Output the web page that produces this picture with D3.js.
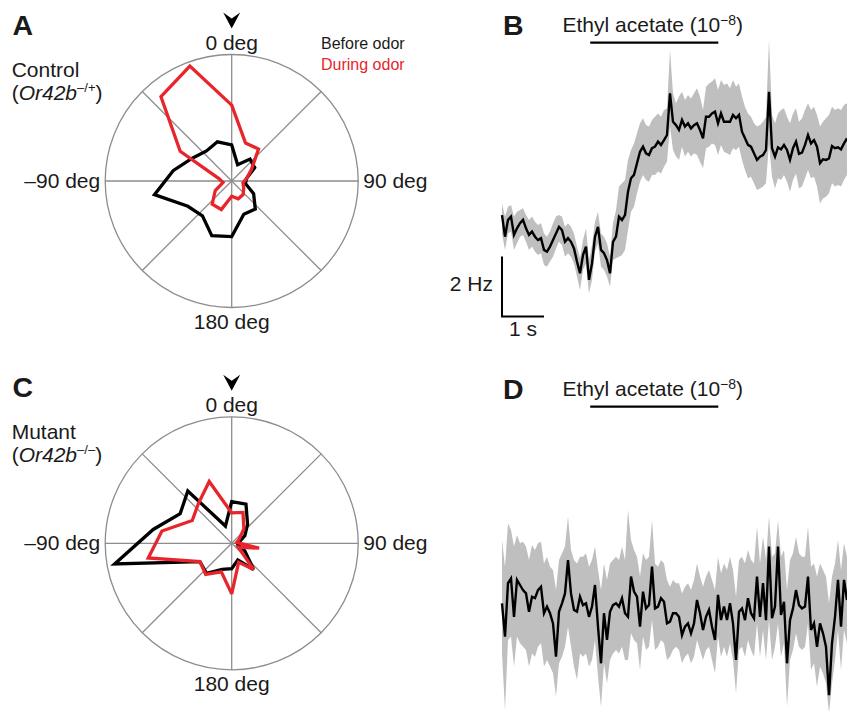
<!DOCTYPE html>
<html>
<head>
<meta charset="utf-8">
<script src="https://cdn.jsdelivr.net/npm/d3@7/dist/d3.min.js"></script>
<style>
  body { margin: 0; background: #fff; }
  svg { display: block; font-family: "Liberation Sans", Arial, Helvetica, sans-serif; }
</style>
</head>
<body>
<div class="fig"></div>
<script>
// heading histograms, 20 deg bins, clockwise from 0 deg (up)
let binAngles = [0, 20, 40, 60, 80, 100, 120, 140, 160, 180, 200, 220, 240, 260, 280, 300, 320, 340]
let controlBefore = [0.285, 0.137, 0.226, 0.21, 0.12, 0.11, 0.20, 0.29, 0.28, 0.44, 0.46, 0.36, 0.40, 0.62, 0.47, 0.36, 0.31, 0.33]
let controlDuring = [0.60, 0.32, 0.33, 0.18, 0.12, 0.09, 0.11, 0.14, 0.15, 0.12, 0.24, 0.24, 0.15, 0.07, 0.10, 0.47, 0.87, 0.967]
let mutantBefore = [0.33, 0.33, 0.195, 0.12, 0.06, 0.05, 0.12, 0.27, 0.14, 0.20, 0.22, 0.31, 0.29, 0.94, 0.63, 0.47, 0.54, 0.145]
let mutantDuring = [0.24, 0.26, 0.15, 0.07, 0.04, 0.22, 0.06, 0.27, 0.16, 0.40, 0.24, 0.32, 0.29, 0.67, 0.56, 0.36, 0.41, 0.52]
let spokeAngles = [0, 45, 90, 135, 180, 225, 270, 315]
let labelAngles = [0, 90, 180, -90]
let angleLabels = ["0 deg", "90 deg", "180 deg", "–90 deg"]

// firing rate (Hz), 14 samples per second
let sampleRate = 14
let odorWindow = [2.1, 5.15]
let controlMean = [4.83, 4.11, 4.67, 4.78, 4.17, 4.39, 4.56, 4.67, 4.39, 4.17, 4.28, 4.11, 4.00, 4.06, 3.67, 3.61, 3.78, 4.00, 4.22, 4.44, 4.33, 3.94, 4.06, 3.94, 3.72, 3.28, 2.89, 3.50, 3.78, 2.67, 3.22, 4.11, 4.44, 3.67, 3.56, 3.33, 2.89, 3.94, 4.11, 4.78, 4.67, 4.83, 5.61, 6.06, 6.17, 6.56, 6.94, 7.11, 6.89, 6.83, 7.06, 7.11, 7.28, 7.17, 7.33, 7.50, 8.89,
  7.94, 7.83, 7.67, 8.00, 7.78, 7.89, 7.72, 7.83, 7.89, 7.67, 7.39, 8.11, 8.11, 8.22, 8.28, 7.89, 8.22, 7.94, 7.94, 7.94, 8.17, 8.06, 8.17, 7.61, 7.39, 7.17, 7.11, 6.89, 6.67, 6.78, 6.83, 7.00, 8.94, 7.06, 6.78, 7.09, 7.02, 7.17, 7.00, 6.67, 7.06, 7.28, 6.87, 6.91, 7.17, 7.50, 7.22, 7.33, 7.11, 6.56, 6.69, 6.67, 6.72, 7.13, 7.06, 7.09, 7.02, 7.22, 7.39]
let controlUpper = [5.22, 4.78, 5.11, 5.17, 4.78, 4.94, 5.00, 5.06, 4.83, 4.67, 4.78, 4.61, 4.50, 4.56, 4.22, 4.11, 4.28, 4.56, 4.78, 4.83, 4.78, 4.44, 4.56, 4.44, 4.22, 3.78, 3.39, 4.00, 4.39, 3.33, 3.83, 4.61, 4.94, 4.22, 4.11, 3.89, 3.44, 4.56, 5.00, 5.78, 5.89, 6.00, 6.67, 7.00, 7.22, 7.56, 7.89, 8.06, 7.83, 7.78, 8.00, 8.11, 8.22, 8.11, 8.33, 8.39, 10.33,
  8.89, 8.56, 8.78, 8.94, 8.67, 8.83, 8.72, 8.89, 9.06, 8.78, 8.33, 9.11, 9.22, 9.28, 9.39, 9.00, 9.33, 9.17, 9.22, 9.06, 9.33, 9.11, 9.22, 8.78, 8.44, 8.22, 8.11, 7.89, 7.78, 7.83, 7.94, 8.11, 10.67, 8.17, 7.89, 8.22, 8.33, 8.39, 8.11, 7.89, 8.22, 8.39, 7.94, 8.06, 8.33, 8.56, 8.33, 8.44, 8.17, 7.78, 7.94, 8.06, 8.17, 8.44, 8.33, 8.39, 8.33, 8.50, 8.56]
let controlLower = [4.22, 3.67, 4.22, 4.28, 3.67, 3.89, 4.11, 4.17, 3.94, 3.67, 3.78, 3.61, 3.50, 3.56, 3.17, 3.11, 3.28, 3.44, 3.72, 3.94, 3.83, 3.44, 3.56, 3.44, 3.22, 2.78, 2.33, 3.00, 3.22, 2.22, 2.67, 3.61, 3.89, 3.11, 3.00, 2.78, 2.44, 3.33, 3.39, 3.44, 3.50, 3.67, 4.33, 4.94, 5.11, 5.56, 5.94, 6.17, 6.00, 5.94, 6.17, 6.17, 6.28, 6.22, 6.44, 6.61, 7.78,
  7.00, 6.78, 6.67, 7.11, 6.78, 6.94, 6.78, 6.89, 6.83, 6.61, 6.39, 7.06, 7.11, 7.22, 7.17, 6.83, 7.17, 6.94, 6.89, 6.83, 7.06, 7.00, 7.11, 6.67, 6.33, 6.06, 6.11, 5.89, 5.67, 5.72, 5.78, 5.89, 7.22, 6.11, 5.72, 6.06, 6.00, 6.17, 5.94, 5.61, 6.00, 6.22, 5.72, 5.78, 6.06, 6.33, 6.06, 6.11, 5.78, 5.22, 5.39, 5.44, 5.56, 5.89, 5.78, 5.83, 5.78, 6.00, 6.17]
let mutantMean = [5.89, 4.78, 6.56, 6.72, 5.44, 6.67, 6.50, 6.33, 6.22, 5.61, 6.11, 6.06, 6.33, 6.44, 5.56, 5.78, 5.56, 5.22, 4.11, 5.61, 5.89, 6.22, 7.33, 6.22, 5.67, 5.61, 6.11, 5.83, 5.89, 5.44, 5.78, 6.50, 5.11, 3.89, 5.56, 4.67, 5.61, 5.83, 5.89, 5.78, 6.06, 5.56, 5.44, 6.78, 6.28, 6.11, 5.11, 6.28, 5.72, 5.83, 7.11, 5.72, 5.78, 6.06, 5.94, 5.22, 5.28,
  5.56, 5.56, 5.44, 4.83, 5.11, 5.22, 4.89, 5.22, 6.00, 5.56, 5.00, 5.44, 5.67, 5.11, 4.67, 6.17, 5.33, 5.78, 5.33, 5.89, 5.22, 4.00, 5.61, 5.72, 5.33, 6.06, 5.56, 5.39, 6.78, 5.44, 6.56, 5.33, 7.78, 5.39, 5.78, 7.78, 5.50, 5.94, 3.89, 5.33, 5.72, 6.33, 5.83, 5.72, 5.78, 6.78, 5.00, 5.22, 4.44, 5.22, 4.89, 4.44, 2.83, 4.56, 5.44, 6.67, 5.11, 6.67, 6.00]
let mutantUpper = [8.00, 7.11, 8.56, 8.33, 7.78, 8.17, 7.89, 7.94, 7.78, 7.33, 7.83, 7.67, 7.89, 7.94, 7.22, 7.44, 7.11, 7.00, 6.33, 7.33, 7.56, 7.78, 8.78, 7.67, 7.33, 7.22, 7.44, 7.44, 7.56, 7.11, 7.33, 7.78, 7.00, 6.33, 7.22, 6.67, 7.22, 7.33, 7.44, 7.33, 7.78, 7.33, 9.00, 8.00, 7.67, 7.44, 6.78, 7.56, 7.33, 7.44, 8.67, 7.22, 7.11, 7.33, 7.22, 6.67, 6.44,
  6.67, 6.56, 6.56, 6.22, 6.44, 6.56, 6.33, 6.67, 7.22, 6.78, 6.44, 6.78, 7.00, 6.67, 6.33, 7.44, 6.89, 7.22, 7.00, 7.44, 7.00, 6.11, 7.33, 7.44, 7.22, 7.67, 7.33, 7.22, 8.44, 7.22, 8.11, 7.33, 8.78, 7.44, 7.56, 8.67, 7.44, 7.67, 6.33, 7.33, 7.56, 8.11, 7.56, 7.44, 7.44, 8.44, 7.11, 7.22, 6.78, 7.22, 7.00, 6.78, 5.89, 6.78, 7.22, 8.00, 7.00, 7.89, 7.44]
let mutantLower = [4.22, 2.33, 4.67, 4.78, 3.78, 4.78, 4.56, 4.44, 4.33, 3.78, 4.22, 4.11, 4.44, 4.56, 3.78, 4.00, 3.78, 3.56, 2.78, 3.89, 4.11, 4.44, 5.11, 4.44, 3.78, 3.33, 4.22, 4.11, 4.22, 3.78, 4.00, 4.67, 3.44, 2.44, 3.89, 3.22, 4.00, 4.22, 4.33, 4.22, 4.44, 4.00, 4.00, 4.89, 4.67, 4.56, 3.67, 4.78, 4.33, 4.44, 5.33, 4.33, 4.44, 4.67, 4.56, 4.00, 4.11,
  4.33, 4.44, 4.33, 3.89, 4.11, 4.22, 3.89, 4.11, 4.67, 4.33, 4.00, 4.33, 4.44, 4.00, 3.56, 4.78, 4.11, 4.44, 4.11, 4.56, 4.00, 2.89, 4.33, 4.44, 4.11, 4.67, 4.33, 4.11, 5.22, 4.11, 5.00, 4.00, 5.33, 4.00, 4.44, 5.22, 4.11, 4.56, 2.44, 4.00, 4.33, 4.89, 4.44, 4.33, 4.44, 5.22, 3.67, 3.89, 3.11, 3.78, 3.56, 3.22, 2.22, 3.22, 4.00, 5.00, 3.67, 5.00, 4.56]

let width = 847, height = 711
let red = "#e8252b", grid = "#8d8d8d", ink = "#1a1a1a"
let svg = d3.select(".fig")
  .append("svg")
  .attr("width", width)
  .attr("height", height)
  .attr("fill", ink)

let R = 126.5
let rScale = d3.scaleLinear().domain([0, 1]).range([0, R])
let rad = (d) => d * Math.PI / 180

function polarPanel(cy, before, during, letter, name, allele) {
  let cx = 231.7
  let g = svg.append("g").attr("transform", `translate(${cx},${cy})`)
  g.append("circle")
    .attr("r", rScale(1))
    .attr("fill", "none")
    .attr("stroke", grid)
    .attr("stroke-width", 1.3)
  g.selectAll(".spoke")
    .data(spokeAngles)
    .enter()
    .append("line")
    .attr("x1", 0).attr("y1", 0)
    .attr("x2", (d) => rScale(1) * Math.sin(rad(d)))
    .attr("y2", (d) => -rScale(1) * Math.cos(rad(d)))
    .attr("stroke", grid)
    .attr("stroke-width", 1.3)
  let radial = d3.lineRadial()
    .angle((d, i) => rad(binAngles[i]))
    .radius((d) => rScale(d))
    .curve(d3.curveLinearClosed)
  g.append("path")
    .datum(before)
    .attr("d", radial)
    .attr("fill", "none")
    .attr("stroke", "#000")
    .attr("stroke-width", 3.3)
    .attr("stroke-miterlimit", 3)
  g.append("path")
    .datum(during)
    .attr("d", radial)
    .attr("fill", "none")
    .attr("stroke", red)
    .attr("stroke-width", 3.3)
    .attr("stroke-miterlimit", 3)
  //odor direction marker
  g.append("path")
    .attr("d", `M-8.5,${-R - 42}L0,${-R - 36}L8.5,${-R - 42}L0,${-R - 26}Z`)
    .attr("fill", "#000")
  g.selectAll(".deg")
    .data(labelAngles)
    .enter()
    .append("text")
    .attr("font-size", 21)
    .attr("x", (d) => Math.sin(rad(d)) * (R + 5))
    .attr("y", (d) => d == 0 ? -R - 4.5 : d == 180 ? R + 21 : 7)
    .attr("text-anchor", (d) => d == 90 ? "start" : d == -90 ? "end" : "middle")
    .text((d, i) => angleLabels[i])
  svg.append("text")
    .attr("x", 12.5).attr("y", cy - 146)
    .attr("font-size", 28.5).attr("font-weight", "bold")
    .text(letter)
  svg.append("text")
    .attr("x", 11.7).attr("y", cy - 104.5)
    .attr("font-size", 21)
    .text(name)
  let geno = svg.append("text")
    .attr("x", 11.7).attr("y", cy - 81)
    .attr("font-size", 21)
  geno.append("tspan").text("(")
  geno.append("tspan").attr("font-style", "italic").text("Or42b")
  geno.append("tspan").attr("font-size", 13).attr("dy", -8).text(allele)
  geno.append("tspan").attr("dy", 8).text(")")
}

polarPanel(181, controlBefore, controlDuring, "A", "Control", "–/+")
polarPanel(543.3, mutantBefore, mutantDuring, "C", "Mutant", "–/–")

svg.append("text").attr("x", 321).attr("y", 49).attr("font-size", 16).text("Before odor")
svg.append("text").attr("x", 321).attr("y", 70).attr("font-size", 16).attr("fill", red).text("During odor")

//firing rate traces
let x = d3.scaleLinear().domain([0, (controlMean.length - 1) / sampleRate]).range([502, 847])
let yB = d3.scaleLinear().domain([0, 10]).range([360, 60])
let yD = d3.scaleLinear().domain([0, 10]).range([780, 480])

function tracePanel(y, mean, upper, lower, top, letter) {
  let t = (d, i) => x(i / sampleRate)
  let band = d3.area()
    .x(t)
    .y0((d, i) => y(lower[i]))
    .y1((d, i) => y(upper[i]))
  svg.append("path")
    .datum(mean)
    .attr("d", band)
    .attr("fill", "#bfbfbf")
  let line = d3.line().x(t).y((d) => y(d))
  svg.append("path")
    .datum(mean)
    .attr("d", line)
    .attr("fill", "none")
    .attr("stroke", "#000")
    .attr("stroke-width", 2.4)
  svg.append("text")
    .attr("x", 503).attr("y", top + 35)
    .attr("font-size", 28.5).attr("font-weight", "bold")
    .text(letter)
  let title = svg.append("text")
    .attr("x", 562.5).attr("y", top + 32)
    .attr("font-size", 21)
  title.append("tspan").text("Ethyl acetate (10")
  title.append("tspan").attr("font-size", 14).attr("dy", -7).text("−8")
  title.append("tspan").attr("dy", 7).text(")")
  svg.append("line")
    .attr("x1", x(odorWindow[0])).attr("x2", x(odorWindow[1]))
    .attr("y1", top + 42.7).attr("y2", top + 42.7)
    .attr("stroke", "#000")
    .attr("stroke-width", 2.2)
}

tracePanel(yB, controlMean, controlUpper, controlLower, 0, "B")
tracePanel(yD, mutantMean, mutantUpper, mutantLower, 364, "D")

//scale bar: 2 Hz, 1 s
let bar = svg.append("g")
bar.append("path")
  .attr("d", `M${x(0)},${yB(3.45)}V${yB(1.45)}H${x(1)}`)
  .attr("fill", "none")
  .attr("stroke", "#000")
  .attr("stroke-width", 2)
bar.append("text")
  .attr("x", 493).attr("y", 291)
  .attr("font-size", 21).attr("text-anchor", "end")
  .text("2 Hz")
bar.append("text")
  .attr("x", (x(0) + x(1)) / 2).attr("y", 336)
  .attr("font-size", 21).attr("text-anchor", "middle")
  .text("1 s")
</script>
</body>
</html>
